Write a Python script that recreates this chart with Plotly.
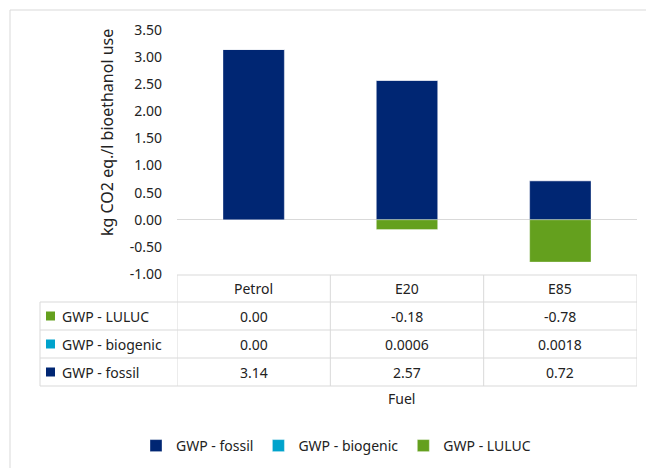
import plotly.graph_objects as go

# ---------------- data ----------------
fuels = ["Petrol", "E20", "E85"]
gwp_fossil = [3.14, 2.57, 0.72]
gwp_biogenic = [0.00, 0.0006, 0.0018]
gwp_luluc = [0.00, -0.18, -0.78]
y_tick_vals = [-1.0, -0.5, 0.0, 0.5, 1.0, 1.5, 2.0, 2.5, 3.0, 3.5]
y_tick_labels = ["-1.00", "-0.50", "0.00", "0.50", "1.00", "1.50", "2.00", "2.50", "3.00", "3.50"]
series_names = ["GWP - fossil", "GWP - biogenic", "GWP - LULUC"]
series_colors = ["#002673", "#00A3CC", "#64A01E"]
y_title = "kg CO2 eq./l bioethanol use"
x_title = "Fuel"

# ---------------- geometry helpers (reference-pixel coordinates) ----------------
OFF = 8  # page body margin
W, H = 654 - OFF, 468 - OFF
L, R, T, B = 177 - OFF, 17, 30 - OFF, 194
PW, PH = W - L - R, H - T - B
FONT = "Noto Sans"
FS = 14
TXT = "#222222"
GRID = "#D9D9D9"


def px(x):
    return (x - 177) / PW


def py(y):
    return (274 - y) / PH


series_vals = [gwp_fossil, gwp_biogenic, gwp_luluc]

fig = go.Figure()
for name, vals, col in zip(series_names, series_vals, series_colors):
    fig.add_trace(go.Bar(
        x=fuels, y=vals, name=name,
        marker=dict(color=col, line=dict(color="rgba(255,255,255,0.35)", width=1)),
    ))


def fmt(v, biogenic=False):
    if biogenic and v != 0:
        return f"{v:.4f}"
    return f"{v:.2f}"


shapes = []
annotations = []


def txt(x, y, s, xref="paper", xanchor="center", size=FS, angle=0):
    annotations.append(dict(x=x, y=y, xref=xref, yref="paper", text=s, showarrow=False,
                            xanchor=xanchor, yanchor="middle", textangle=angle,
                            font=dict(family=FONT, size=size, color=TXT)))


# outer chart border
shapes.append(dict(type="rect", xref="paper", yref="paper",
                   x0=px(10), y0=py(10), x1=px(700), y1=py(520),
                   line=dict(color=GRID, width=1), fillcolor="rgba(0,0,0,0)", layer="below"))

# table geometry
row_lines = [275, 302, 330, 358, 386]
tbl_left = 40
shapes.append(dict(type="line", xref="x", yref="paper", x0=-0.5, x1=2.5,
                   y0=py(row_lines[0]), y1=py(row_lines[0]), line=dict(color=GRID, width=1)))
for yl in row_lines[1:]:
    shapes.append(dict(type="line", xref="paper", yref="paper", x0=px(tbl_left), x1=1,
                       y0=py(yl), y1=py(yl), line=dict(color=GRID, width=1)))
shapes.append(dict(type="line", xref="paper", yref="paper", x0=px(tbl_left), x1=px(tbl_left),
                   y0=py(row_lines[1]), y1=py(row_lines[-1]), line=dict(color=GRID, width=1)))
for xv in [-0.5, 0.5, 1.5, 2.5]:
    shapes.append(dict(type="line", xref="x", yref="paper", x0=xv, x1=xv,
                       y0=py(row_lines[0]), y1=py(row_lines[-1]), line=dict(color=GRID, width=1)))

# header text
hdr_y = (row_lines[0] + row_lines[1]) / 2
for f in fuels:
    txt(f, py(hdr_y), f, xref="x")

# rows: LULUC, biogenic, fossil (top to bottom)
table_order = [2, 1, 0]
for r, si in enumerate(table_order):
    yc = (row_lines[r + 1] + row_lines[r + 2]) / 2
    shapes.append(dict(type="rect", xref="paper", yref="paper",
                       x0=px(46), x1=px(55), y0=py(yc - 4.5), y1=py(yc + 4.5),
                       fillcolor=series_colors[si], line=dict(width=0)))
    txt(px(60), py(yc), series_names[si], xanchor="left")
    for f, v in zip(fuels, series_vals[si]):
        txt(f, py(yc), fmt(v, biogenic=(si == 1)), xref="x")

# axis titles
txt(px(401), py(399), x_title)
txt(px(107), py(133), y_title, size=16, angle=-90)

fig.update_layout(
    width=W, height=H,
    margin=dict(l=L, r=R, t=T, b=B, autoexpand=False),
    paper_bgcolor="white", plot_bgcolor="white",
    barmode="relative", bargap=0.6,
    font=dict(family=FONT, size=FS, color=TXT),
    showlegend=True,
    legend=dict(orientation="h", x=px(336), xanchor="center", y=py(446), yanchor="middle",
                font=dict(family=FONT, size=FS, color=TXT), traceorder="normal",
                itemwidth=30),
    xaxis=dict(type="category", range=[-0.5, 2.5], showticklabels=False, showgrid=False,
               zeroline=False, showline=False, ticks=""),
    yaxis=dict(range=[-1.0, 3.5], tickvals=y_tick_vals, ticktext=y_tick_labels,
               showgrid=False, zeroline=True, zerolinecolor=GRID, zerolinewidth=1,
               showline=False, ticks="", ticklabelstandoff=14,
               tickfont=dict(family=FONT, size=FS, color=TXT)),
    shapes=shapes, annotations=annotations,
)

fig.write_html("out.html")
